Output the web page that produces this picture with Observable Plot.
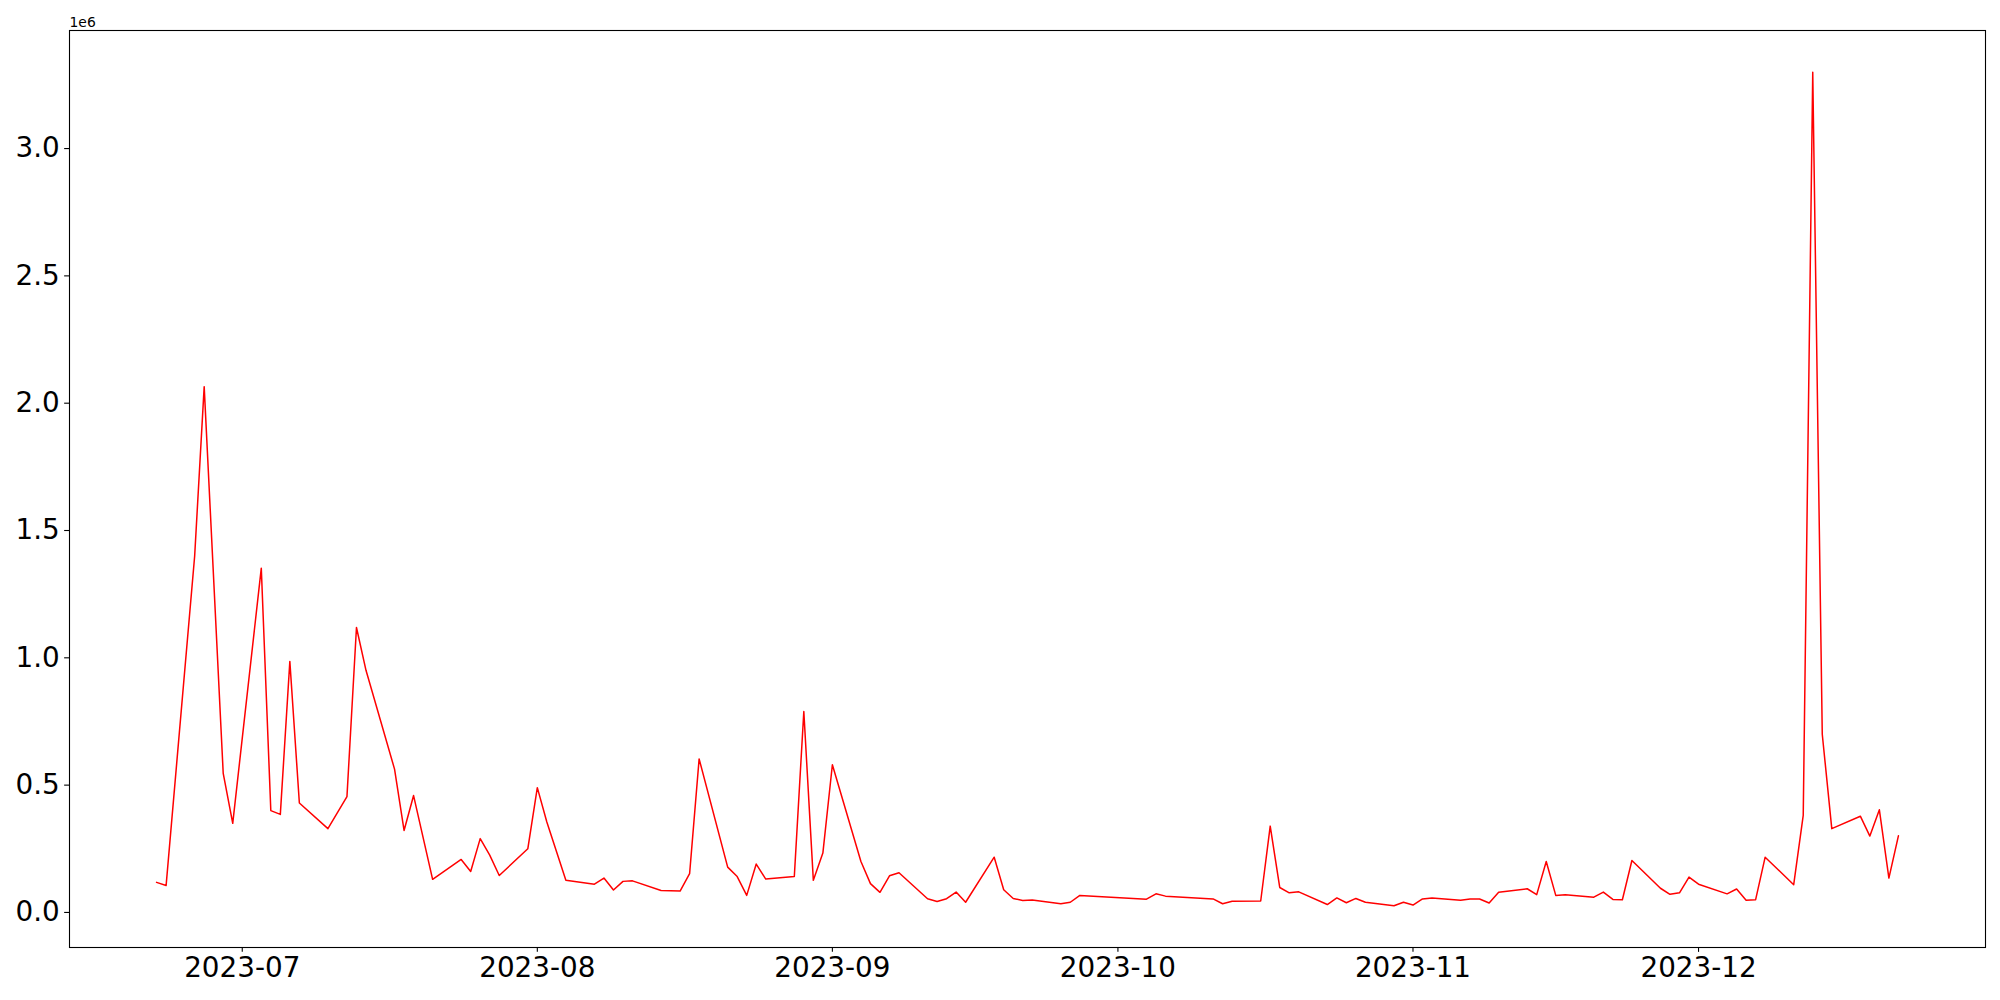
<!DOCTYPE html>
<html>
<head>
<meta charset="utf-8">
<script src="https://cdn.jsdelivr.net/npm/d3@7"></script>
<script src="https://cdn.jsdelivr.net/npm/@observablehq/plot@0.6"></script>
<style>
  html, body { margin: 0; padding: 0; background: #fff; }
</style>
</head>
<body>
<div id="chart"></div>
<script>
// Dates of each observation
const dates = [
  "2023-06-22","2023-06-23","2023-06-26","2023-06-27","2023-06-29","2023-06-30",
  "2023-07-03","2023-07-04","2023-07-05","2023-07-06","2023-07-07",
  "2023-07-10","2023-07-12","2023-07-13","2023-07-14",
  "2023-07-17","2023-07-18","2023-07-19","2023-07-21",
  "2023-07-24","2023-07-25","2023-07-26","2023-07-27","2023-07-28",
  "2023-07-31","2023-08-01","2023-08-02","2023-08-04",
  "2023-08-07","2023-08-08","2023-08-09","2023-08-10","2023-08-11",
  "2023-08-14","2023-08-16","2023-08-17","2023-08-18",
  "2023-08-21","2023-08-22","2023-08-23","2023-08-24","2023-08-25",
  "2023-08-28","2023-08-29","2023-08-30","2023-08-31","2023-09-01",
  "2023-09-04","2023-09-05","2023-09-06","2023-09-07","2023-09-08",
  "2023-09-11","2023-09-12","2023-09-13","2023-09-14","2023-09-15",
  "2023-09-18","2023-09-19","2023-09-20","2023-09-21","2023-09-22",
  "2023-09-25","2023-09-26","2023-09-27",
  "2023-10-04","2023-10-05","2023-10-06",
  "2023-10-11","2023-10-12","2023-10-13",
  "2023-10-16","2023-10-17","2023-10-18","2023-10-19","2023-10-20",
  "2023-10-23","2023-10-24","2023-10-25","2023-10-26","2023-10-27",
  "2023-10-30","2023-10-31","2023-11-01","2023-11-02","2023-11-03",
  "2023-11-06","2023-11-07","2023-11-08","2023-11-09","2023-11-10",
  "2023-11-13","2023-11-14","2023-11-15","2023-11-16","2023-11-17",
  "2023-11-20","2023-11-21","2023-11-22","2023-11-23","2023-11-24",
  "2023-11-27","2023-11-28","2023-11-29","2023-11-30","2023-12-01",
  "2023-12-04","2023-12-05","2023-12-06","2023-12-07","2023-12-08",
  "2023-12-11","2023-12-12","2023-12-13","2023-12-14","2023-12-15",
  "2023-12-18","2023-12-19","2023-12-20","2023-12-21","2023-12-22"
];

// Values in units of 1e6
const values = [
  0.118, 0.106, 1.40, 2.065, 0.546, 0.35,
  1.352, 0.40, 0.385, 0.986, 0.43,
  0.329, 0.455, 1.119, 0.951,
  0.563, 0.322, 0.459, 0.13,
  0.208, 0.161, 0.29, 0.225, 0.145,
  0.25, 0.49, 0.355, 0.126,
  0.111, 0.135, 0.088, 0.122, 0.124,
  0.086, 0.084, 0.152, 0.603,
  0.178, 0.141, 0.067, 0.19, 0.131,
  0.141, 0.789, 0.126, 0.233, 0.58,
  0.20, 0.113, 0.079, 0.144, 0.156,
  0.054, 0.043, 0.054, 0.08, 0.04,
  0.217, 0.089, 0.055, 0.047, 0.049,
  0.034, 0.040, 0.067,
  0.052, 0.073, 0.064,
  0.053, 0.034, 0.044,
  0.045, 0.339, 0.098, 0.077, 0.081,
  0.031, 0.057, 0.038, 0.055, 0.040,
  0.026, 0.040, 0.029, 0.053, 0.057,
  0.048, 0.053, 0.053, 0.037, 0.079,
  0.093, 0.070, 0.20, 0.067, 0.069,
  0.060, 0.08, 0.051, 0.050, 0.204,
  0.095, 0.071, 0.077, 0.139, 0.111,
  0.073, 0.092, 0.048, 0.050, 0.217,
  0.109, 0.381, 3.30, 0.70, 0.329,
  0.378, 0.30, 0.403, 0.135, 0.301
];

const xTickLabels = ["2023-07","2023-08","2023-09","2023-10","2023-11","2023-12"];
const yTicks = [0.0, 0.5, 1.0, 1.5, 2.0, 2.5, 3.0];
const offsetLabel = "1e6";

const data = dates.map((d, i) => ({date: new Date(d + "T00:00:00Z"), value: values[i]}));

// matplotlib-like 5% margins around the data extent
const [x0, x1] = d3.extent(data, d => +d.date);
const xPad = (x1 - x0) * 0.05;
const [y0, y1] = d3.extent(data, d => d.value);
const yPad = (y1 - y0) * 0.05;

const xTicks = xTickLabels.map(s => new Date(s + "-01T00:00:00Z"));

const FS = 27.8;
const TICK = 4.86;

const chart = Plot.plot({
  width: 2000,
  height: 1000,
  marginLeft: 69,
  marginRight: 15,
  marginTop: 30,
  marginBottom: 53,
  style: {fontFamily: "DejaVu Sans", background: "#fff", color: "#000"},
  x: {type: "utc", domain: [new Date(x0 - xPad), new Date(x1 + xPad)]},
  y: {domain: [y0 - yPad, y1 + yPad]},
  marks: [
    Plot.line(data, {x: "date", y: "value", stroke: "red", strokeWidth: 1.5}),
    Plot.frame({stroke: "#000", strokeWidth: 1.1}),
    Plot.axisX({
      ticks: xTicks,
      tickFormat: d => xTickLabels[xTicks.findIndex(t => +t === +d)],
      tickSize: TICK, tickPadding: TICK, fontSize: FS,
      strokeWidth: 1.1, label: null, fill: "#000"
    }),
    Plot.axisY({
      ticks: yTicks,
      tickFormat: d => d.toFixed(1),
      tickSize: TICK, tickPadding: TICK, fontSize: FS,
      strokeWidth: 1.1, label: null, fill: "#000"
    }),
    Plot.text([offsetLabel], {
      frameAnchor: "top-left", text: d => d, textAnchor: "start",
      lineAnchor: "bottom", dy: -4, fontSize: 13.9, fill: "#000"
    })
  ]
});

document.getElementById("chart").appendChild(chart);
</script>
</body>
</html>
